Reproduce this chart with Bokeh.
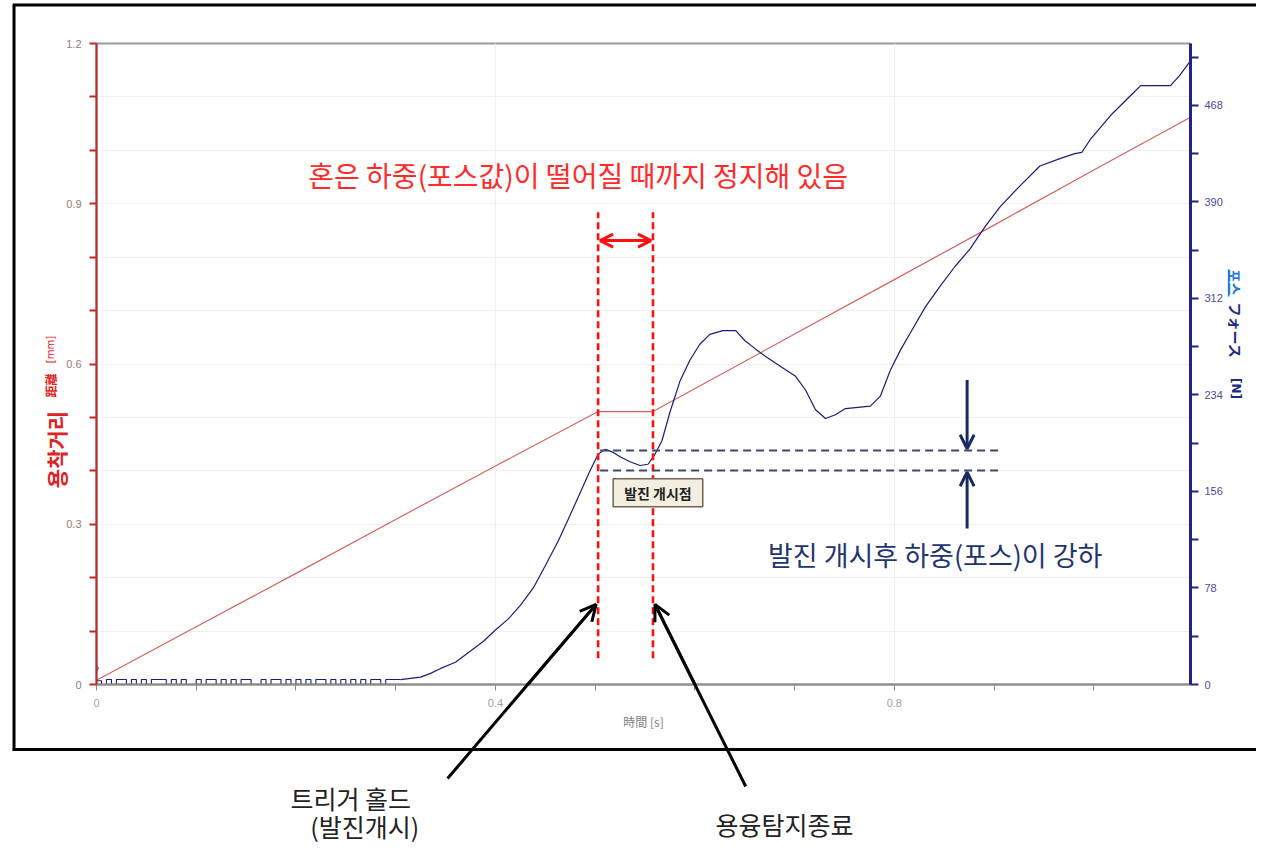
import math
from bokeh.plotting import figure
from bokeh.models import Range1d, LinearAxis, FixedTicker, Label, Arrow, OpenHead
from bokeh.core.properties import value
from bokeh.embed import file_html
from bokeh.resources import INLINE

# ---------------- data ----------------
# welding distance (mm) vs time (s)
dist_t = [0.0, 0.1, 0.2, 0.3, 0.4, 0.503, 0.558, 0.7, 0.8, 0.9, 1.0, 1.097]
dist_mm = [0.008, 0.108, 0.208, 0.309, 0.409, 0.511, 0.511, 0.656, 0.758, 0.860, 0.963, 1.062]

# force (N): idle noise part (step drawing)
noise_t = [0.000, 0.005, 0.010, 0.015, 0.020, 0.025, 0.030, 0.035, 0.040, 0.045,
           0.050, 0.055, 0.060, 0.065, 0.070, 0.075, 0.080, 0.085, 0.090, 0.095,
           0.100, 0.105, 0.110, 0.115, 0.120, 0.125, 0.130, 0.135, 0.140, 0.145,
           0.150, 0.155, 0.160, 0.165, 0.170, 0.175, 0.180, 0.185, 0.190, 0.195,
           0.200, 0.205, 0.210, 0.215, 0.220, 0.225, 0.230, 0.235, 0.240, 0.245,
           0.250, 0.255, 0.260, 0.265, 0.270, 0.275, 0.280, 0.285, 0.290, 0.295, 0.305]
noise_n = [3, 0, 4, 0, 4, 4, 0, 4, 0, 4,
           0, 4, 4, 4, 0, 4, 0, 4, 0, 0,
           4, 0, 4, 4, 0, 4, 0, 4, 0, 4,
           4, 0, 0, 4, 0, 4, 4, 0, 4, 0,
           4, 0, 4, 0, 4, 4, 0, 4, 0, 4,
           0, 4, 0, 4, 0, 4, 4, 0, 4, 4, 4]

# force (N): rising part
force_t = [0.305, 0.325, 0.335, 0.345, 0.360, 0.375, 0.388, 0.400, 0.413, 0.425,
           0.438, 0.450, 0.463, 0.475, 0.485, 0.495, 0.503, 0.510, 0.517, 0.525,
           0.535, 0.545, 0.553, 0.560, 0.567, 0.575, 0.585, 0.595, 0.605, 0.615,
           0.628, 0.641, 0.650, 0.661, 0.671, 0.686, 0.701, 0.711, 0.721, 0.731,
           0.741, 0.751, 0.776, 0.786, 0.796, 0.806, 0.816, 0.831, 0.846, 0.861,
           0.876, 0.891, 0.906, 0.926, 0.946, 0.966, 0.981, 0.988, 0.997, 1.017,
           1.037, 1.047, 1.077, 1.086, 1.097]
force_n = [4, 6, 9, 13, 18, 27, 35, 44, 53, 64,
           78, 96, 116, 137, 155, 173, 186, 190, 188, 184,
           180, 177, 178, 186, 197, 220, 245, 262, 275, 283,
           286, 286, 278, 271, 265, 257, 249, 238, 222, 215,
           218, 223, 225, 233, 254, 270, 284, 305, 322, 338,
           352, 370, 386, 403, 419, 425, 429, 430, 441, 460,
           476, 484, 484, 492, 504]

x_ticks = [0, 0.1, 0.2, 0.3, 0.4, 0.5, 0.6, 0.7, 0.8, 0.9, 1.0]
x_labels = {0: "0", 0.4: "0.4", 0.8: "0.8"}
y_ticks = [0, 0.1, 0.2, 0.3, 0.4, 0.5, 0.6, 0.7, 0.8, 0.9, 1.0, 1.1, 1.2]
y_labels = {0: "0", 0.3: "0.3", 0.6: "0.6", 0.9: "0.9", 1.2: "1.2"}
f_ticks = [0, 39, 78, 117, 156, 195, 234, 273, 312, 351, 390, 429, 468, 507]
f_labels = [0, 78, 156, 234, 312, 390, 468]

KR = "Noto Sans CJK KR"
JP = "Noto Sans CJK JP"

# ---------------- figure ----------------
p = figure(width=1256, height=844, x_range=Range1d(0, 1.097), y_range=Range1d(0, 1.2),
           output_backend="svg", toolbar_location=None,
           min_border_left=96, min_border_right=66, min_border_top=43, min_border_bottom=160)
p.extra_y_ranges = {"force": Range1d(0, 518)}
p.background_fill_color = "white"
p.border_fill_color = "white"
p.outline_line_color = "#9a9a9a"
p.outline_line_width = 2

# grid
p.ygrid.ticker = FixedTicker(ticks=y_ticks)
p.ygrid.grid_line_color = "#f0f0f0"
p.xgrid.ticker = FixedTicker(ticks=[0.4, 0.8])
p.xgrid.grid_line_color = "#f0f0f0"

# x axis
xa = p.xaxis[0]
xa.ticker = FixedTicker(ticks=x_ticks)
xa.major_label_overrides = {t: x_labels.get(t, "") for t in x_ticks}
xa.axis_line_color = "#8c8c8c"
xa.axis_line_width = 2
xa.major_tick_line_color = "#8c8c8c"
xa.major_tick_out = 6
xa.major_tick_in = 0
xa.minor_tick_line_color = None
xa.major_label_text_color = "#a0a0a0"
xa.major_label_text_font_size = "11px"
xa.major_label_standoff = 8
xa.axis_label = "時間 [s]"
xa.axis_label_text_font = JP
xa.axis_label_text_font_style = "normal"
xa.axis_label_text_font_size = "12px"
xa.axis_label_text_color = "#808080"
xa.axis_label_standoff = 3

# left axis
ya = p.yaxis[0]
ya.ticker = FixedTicker(ticks=y_ticks)
ya.major_label_overrides = {t: y_labels.get(t, "") for t in y_ticks}
ya.axis_line_color = "#c0282c"
ya.axis_line_width = 2
ya.major_tick_line_color = "#c0282c"
ya.major_tick_line_width = 2
ya.major_tick_out = 7
ya.major_tick_in = 0
ya.minor_tick_line_color = None
ya.major_label_text_color = "#9a7a7a"
ya.major_label_text_font_size = "11px"
ya.major_label_standoff = 8

# right axis
ra = LinearAxis(y_range_name="force")
ra.ticker = FixedTicker(ticks=f_ticks)
ra.major_label_overrides = {t: (str(t) if t in f_labels else "") for t in f_ticks}
ra.axis_line_color = "#232386"
ra.axis_line_width = 3
ra.major_tick_line_color = "#232386"
ra.major_tick_line_width = 2
ra.major_tick_out = 8
ra.major_tick_in = 0
ra.minor_tick_line_color = None
ra.major_label_text_color = "#4b4ba0"
ra.major_label_text_font_size = "11px"
ra.major_label_standoff = 6
p.add_layout(ra, "right")

# ---------------- data lines ----------------
p.line(dist_t, dist_mm, line_color="#d86262", line_width=1.2)
p.step(noise_t, noise_n, mode="after", y_range_name="force", line_color="#1c1c7a", line_width=1.1)
p.line(force_t, force_n, y_range_name="force", line_color="#1c1c7a", line_width=1.2)
p.scatter([0.0], [13], y_range_name="force", marker="diamond", size=6,
          fill_color=None, line_color="#3030c0")

# ---------------- annotations ----------------
OV = "overlay"

# outer black frame (drawn on the overlay level, outside the plot area)
p.segment(x0=[-0.0827, -0.0840, -0.0840], x1=[-0.0827, 1.20, 1.20],
          y0=[1.2721, 1.2721, -0.1217], y1=[-0.1245, 1.2721, -0.1217],
          line_color="black", line_width=3, level=OV)

# red dashed verticals
hold_t = [0.503, 0.558]
p.segment(x0=hold_t, x1=hold_t, y0=[0.049, 0.049], y1=[0.884, 0.884],
          line_color="#ff1010", line_width=2.6, line_dash="7 4")
# red double arrow
p.add_layout(Arrow(start=OpenHead(size=13, line_color="#ff1010", line_width=3),
                   end=OpenHead(size=13, line_color="#ff1010", line_width=3),
                   x_start=0.505, y_start=0.831, x_end=0.556, y_end=0.831,
                   line_color="#ff1010", line_width=3))

# navy dashed horizontals
p.segment(x0=[0.505, 0.505], x1=[0.906, 0.906], y0=[189, 173], y1=[189, 173],
          y_range_name="force", line_color="#3e4a66", line_width=2, line_dash="8 5")
# navy arrows
p.add_layout(Arrow(end=OpenHead(size=14, line_color="#1a2a60", line_width=3),
                   x_start=0.873, y_start=246, x_end=0.873, y_end=190.5,
                   y_range_name="force", line_color="#1a2a60", line_width=3))
p.add_layout(Arrow(end=OpenHead(size=14, line_color="#1a2a60", line_width=3),
                   x_start=0.873, y_start=126, x_end=0.873, y_end=171.5,
                   y_range_name="force", line_color="#1a2a60", line_width=3))

# black pointer arrows (shafts on overlay, heads as arrows)
ptr_x0 = [0.352, 0.651]
ptr_y0 = [-0.176, -0.191]
ptr_x1 = [0.501, 0.560]
ptr_y1 = [0.150, 0.150]
p.segment(x0=ptr_x0, y0=ptr_y0, x1=ptr_x1, y1=ptr_y1, line_color="black", line_width=3, level=OV)
for i in range(2):
    p.add_layout(Arrow(end=OpenHead(size=16, line_color="black", line_width=3),
                       x_start=ptr_x0[i], y_start=ptr_y0[i], x_end=ptr_x1[i], y_end=ptr_y1[i],
                       line_color="black", line_width=3))

# texts inside the plot
p.add_layout(Label(x=0.483, y=0.953, text="혼은 하중(포스값)이 떨어질 때까지 정지해 있음",
                   text_font=KR, text_font_size="28px", text_color="#ff2a2a",
                   text_align="center", text_baseline="middle"))
p.add_layout(Label(x=0.841, y=0.243, text="발진 개시후 하중(포스)이 강하",
                   text_font=KR, text_font_size="27px", text_color="#1f3572",
                   text_align="center", text_baseline="middle"))
p.add_layout(Label(x=0.563, y=0.359, text="발진 개시점",
                   text_font=KR, text_font_size="14px", text_font_style="bold",
                   text_color="#222222", text_align="center", text_baseline="middle",
                   background_fill_color="#f3efe0", border_line_color="#6e6650",
                   border_line_width=1.5, padding=(11, 4)))

# texts below the plot (overlay level so they are not clipped)
p.text(x=[0.255, 0.269, 0.690], y=[-0.2134, -0.2658, -0.262],
       text=["트리거 홀드", "(발진개시)", "용융탐지종료"],
       text_font=value(KR), text_font_size="25px", text_color="#222222",
       text_align="center", text_baseline="middle", level=OV)

# left axis title pieces
p.text(x=[-0.0411], y=[0.4399], text=["용착거리"], angle=math.pi / 2,
       text_font=value(KR), text_font_size="21px", text_font_style="bold",
       text_color="#e02424", text_align="center", text_baseline="middle", level=OV)
p.text(x=[-0.0461], y=[0.5597], text=["距離"], angle=math.pi / 2,
       text_font=value(JP), text_font_size="12px", text_font_style="bold",
       text_color="#e02424", text_align="center", text_baseline="middle", level=OV)
p.text(x=[-0.0461], y=[0.6271], text=["[mm]"], angle=math.pi / 2,
       text_font=value("DejaVu Sans"), text_font_size="10px",
       text_color="#e02424", text_align="center", text_baseline="middle", level=OV)

# right axis title pieces
p.text(x=[1.1419], y=[324.9], y_range_name="force", text=["포스"], angle=-math.pi / 2,
       text_font=value(KR), text_font_size="14px", text_font_style="bold",
       text_color="#2a78d6", text_align="center", text_baseline="middle", level=OV)
p.segment(x0=[1.1352], x1=[1.1352], y0=[335.5], y1=[313.5], y_range_name="force",
          line_color="#2a78d6", line_width=1.5, level=OV)
p.text(x=[1.1429], y=[286.1], y_range_name="force", text=["フォース"], angle=-math.pi / 2,
       text_font=value(JP), text_font_size="14px", text_font_style="bold",
       text_color="#1f2a80", text_align="center", text_baseline="middle", level=OV)
p.text(x=[1.1429], y=[239.2], y_range_name="force", text=["[N]"], angle=-math.pi / 2,
       text_font=value("DejaVu Sans"), text_font_size="12px", text_font_style="bold",
       text_color="#1f2a80", text_align="center", text_baseline="middle", level=OV)

open("out.html", "w").write(file_html(p, INLINE))
